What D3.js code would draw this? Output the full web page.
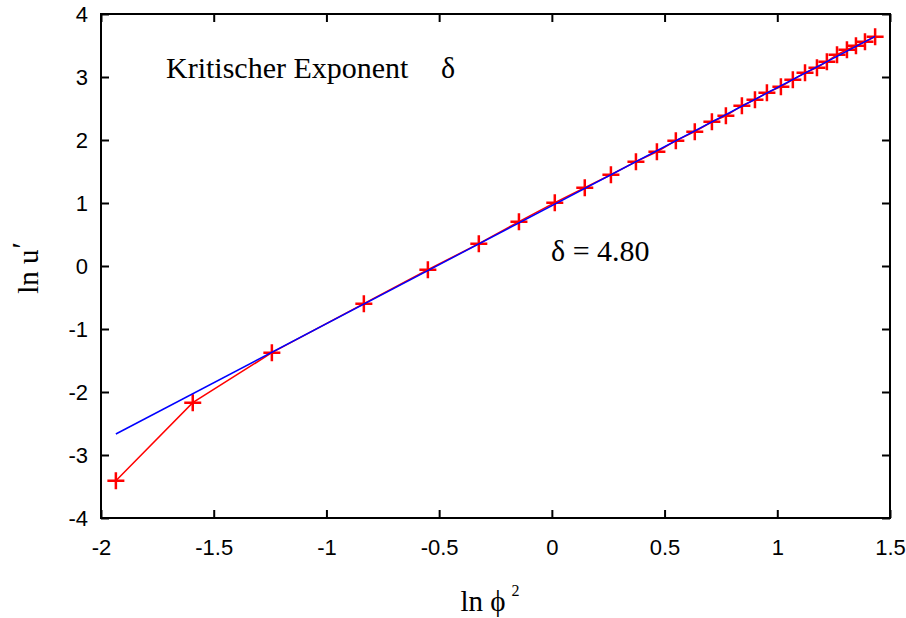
<!DOCTYPE html>
<html>
<head>
<meta charset="utf-8">
<script src="https://cdn.jsdelivr.net/npm/d3@7"></script>
<style>
  html, body { margin: 0; padding: 0; background: #fff; }
  svg { display: block; }
</style>
</head>
<body>
<svg id="chart" width="906" height="618"></svg>
<script>
// ln(phi^2) values of the measured points
const lnPhi2 = [
  -1.934, -1.593, -1.242, -0.834, -0.550, -0.324, -0.146, 0.013,
  0.146, 0.262, 0.373, 0.466, 0.550, 0.634, 0.710, 0.772,
  0.843, 0.901, 0.954, 1.016, 1.069, 1.123, 1.176, 1.220,
  1.265, 1.309, 1.349, 1.389, 1.434
];
// ln(u') values of the measured points
const lnU = [
  -3.408, -2.170, -1.376, -0.598, -0.059, 0.354, 0.703, 1.005,
  1.243, 1.449, 1.656, 1.814, 1.989, 2.132, 2.290, 2.385,
  2.544, 2.640, 2.751, 2.846, 2.957, 3.068, 3.148, 3.243,
  3.354, 3.433, 3.497, 3.560, 3.640
];
// linear fit ln u' = intercept + slope * ln phi^2
const fitIntercept = 0.958;
const fitSlope = 1.874;
const deltaValue = 4.80;

const xTicks = [-2, -1.5, -1, -0.5, 0, 0.5, 1, 1.5];
const yTicks = [-4, -3, -2, -1, 0, 1, 2, 3, 4];

const svg = d3.select("#chart");
const plotLeft = 101, plotRight = 890, plotTop = 14, plotBottom = 518;

const x = d3.scaleLinear().domain([-2, 1.5]).range([plotLeft, plotRight]);
const y = d3.scaleLinear().domain([-4, 4]).range([plotBottom, plotTop]);

const tickLen = 8;
const SANS = '"Liberation Sans"';
const SERIF = '"Liberation Serif"';

// axes: ticks pointing inward on all four sides
const gAxes = svg.append("g");
function styleAxis(g) {
  g.attr("font-family", null).attr("font-size", null);
  g.select(".domain").remove();
  g.selectAll(".tick line").attr("stroke", "#000").attr("stroke-width", 2);
  g.selectAll(".tick text")
    .style("font-family", SANS)
    .style("font-size", "22px")
    .attr("fill", "#000");
}
const fmt = d => (d < 0 ? "-" : "") + d3.format("")(Math.abs(d));

gAxes.append("g").attr("transform", `translate(0,${plotBottom})`)
  .call(d3.axisBottom(x).tickValues(xTicks).tickFormat(fmt).tickSizeInner(-tickLen).tickSizeOuter(0).tickPadding(21))
  .call(styleAxis);
gAxes.append("g").attr("transform", `translate(0,${plotTop})`)
  .call(d3.axisTop(x).tickValues(xTicks).tickFormat("").tickSizeInner(-tickLen).tickSizeOuter(0))
  .call(styleAxis);
gAxes.append("g").attr("transform", `translate(${plotLeft},0)`)
  .call(d3.axisLeft(y).tickValues(yTicks).tickFormat(fmt).tickSizeInner(-tickLen).tickSizeOuter(0).tickPadding(13))
  .call(styleAxis);
gAxes.append("g").attr("transform", `translate(${plotRight},0)`)
  .call(d3.axisRight(y).tickValues(yTicks).tickFormat("").tickSizeInner(-tickLen).tickSizeOuter(0))
  .call(styleAxis);

// frame
svg.append("rect")
  .attr("x", plotLeft).attr("y", plotTop)
  .attr("width", plotRight - plotLeft).attr("height", plotBottom - plotTop)
  .attr("fill", "none").attr("stroke", "#000").attr("stroke-width", 2);

// data line and markers
const pts = lnPhi2.map((v, i) => [v, lnU[i]]);
const line = d3.line().x(d => x(d[0])).y(d => y(d[1]));

svg.append("path")
  .datum(pts)
  .attr("d", line)
  .attr("fill", "none")
  .attr("stroke", "#ff0000")
  .attr("stroke-width", 1.5);

const arm = 8.5;
svg.append("g").selectAll("path")
  .data(pts)
  .join("path")
  .attr("d", d => {
    const cx = x(d[0]), cy = y(d[1]);
    return `M${cx - arm},${cy}H${cx + arm}M${cx},${cy - arm}V${cy + arm}`;
  })
  .attr("stroke", "#ff0000")
  .attr("stroke-width", 2.5)
  .attr("fill", "none");

// fitted line
const x0 = d3.min(lnPhi2), x1 = d3.max(lnPhi2);
svg.append("path")
  .datum([[x0, fitIntercept + fitSlope * x0], [x1, fitIntercept + fitSlope * x1]])
  .attr("d", line)
  .attr("fill", "none")
  .attr("stroke", "#0000ff")
  .attr("stroke-width", 1.5);

// annotations
function serifText(sel, size) {
  return sel.style("font-family", SERIF).style("font-size", size + "px").attr("fill", "#000");
}
serifText(svg.append("text").attr("x", 166).attr("y", 78), 30)
  .text("Kritischer Exponent");
serifText(svg.append("text").attr("x", 441).attr("y", 78), 30)
  .text("δ");

serifText(svg.append("text").attr("x", 551).attr("y", 261), 30)
  .text(`δ = ${deltaValue.toFixed(2)}`);

// axis titles
const yTitle = serifText(svg.append("text")
  .attr("transform", "translate(38,268) rotate(-90)")
  .attr("text-anchor", "middle"), 29);
yTitle.append("tspan").text("ln u");
yTitle.append("tspan").attr("dx", 1).attr("dy", -6).text("′");

const xTitle = serifText(svg.append("text")
  .attr("x", 490).attr("y", 611)
  .attr("text-anchor", "middle"), 29);
xTitle.append("tspan").text("ln ϕ");
xTitle.append("tspan").attr("dx", 6).attr("dy", -15).style("font-size", "16px").text("2");
</script>
</body>
</html>
